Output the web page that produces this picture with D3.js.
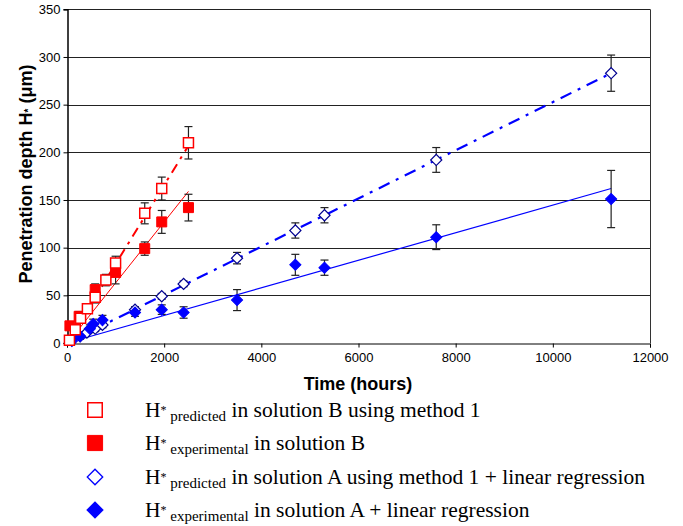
<!DOCTYPE html>
<html><head><meta charset="utf-8">
<script src="https://cdn.jsdelivr.net/npm/d3@7"></script>
<style>body{margin:0;background:#fff}svg{display:block}</style>
</head><body><svg id="c" width="683" height="526"></svg>
<script>
// ---- data ----
const xTicks = [0, 2000, 4000, 6000, 8000, 10000, 12000];
const yTicks = [0, 50, 100, 150, 200, 250, 300, 350];

const predBTime = [50, 170, 280, 420, 580, 800, 1000, 1600, 1950, 2500];
const predBVal  = [3, 14, 26, 36, 48, 66, 84, 136, 162, 210];
const predBErr  = [3, 4, 5, 5, 6, 6, 7, 11, 12, 17];

const expBTime = [60, 250, 580, 1000, 1600, 1950, 2500];
const expBVal  = [18, 28, 56, 74, 99, 127, 142];
const expBErr  = [4, 5, 6, 12, 7, 12, 14];

const predATime = [270, 410, 580, 730, 1400, 1950, 2400, 3500, 4700, 5300, 7600, 11200];
const predAVal  = [7, 11, 15, 19, 35, 49, 62, 89, 118, 134, 192, 283];
const predAErr  = [2, 2, 3, 3, 3, 3, 3, 6, 8, 8, 13, 19];

const expATime = [100, 270, 470, 540, 730, 1400, 1950, 2400, 3500, 4700, 5300, 7600, 11200];
const expAVal  = [2, 7, 15, 20, 24, 32, 35, 32, 45, 82, 79, 111, 151];
const expAErr  = [2, 3, 4, 5, 5, 4, 5, 6, 11, 11, 8, 13, 30];

// trend lines (start/end)
const trendPredBTime = [0, 2500], trendPredBVal = [0, 207];
const trendExpBTime  = [0, 2500], trendExpBVal  = [-1, 159];
const trendPredATime = [0, 11200], trendPredAVal = [0, 283];
const trendExpATime  = [0, 11200], trendExpAVal  = [0, 162];

const legendLabels = [
  {sub: "predicted", rest: " in solution B using method 1"},
  {sub: "experimental", rest: " in solution B"},
  {sub: "predicted", rest: " in solution A using method 1 + linear regression"},
  {sub: "experimental", rest: " in solution A + linear regression"}
];

// ---- drawing ----
const svg = d3.select("#c");
const x = d3.scaleLinear().domain([0, 12000]).range([67, 650]);
const y = d3.scaleLinear().domain([0, 350]).range([343, 9.3]);
const RED = "#ff0000", BLUE = "#0000ff", NAVY = "#000090";

// gridlines
svg.append("g").selectAll("line").data(yTicks.filter(d => d > 0)).join("line")
  .attr("x1", x(0)).attr("x2", x(12000))
  .attr("y1", d => Math.round(y(d)) + 0.5).attr("y2", d => Math.round(y(d)) + 0.5)
  .attr("stroke", "#222").attr("stroke-width", 1);
// right border
svg.append("line").attr("x1", Math.round(x(12000)) + 0.5).attr("x2", Math.round(x(12000)) + 0.5)
  .attr("y1", y(350)).attr("y2", y(0)).attr("stroke", "#333");

// axes
const xAxis = d3.axisBottom(x).tickValues(xTicks).tickSize(4).tickPadding(5).tickFormat(d3.format("d"));
const gx = svg.append("g").attr("transform", `translate(0,${Math.round(y(0)) + 0.5})`).call(xAxis);
gx.select(".domain").attr("stroke", "#000");
gx.selectAll(".tick line").attr("stroke", "#000");
gx.selectAll("text").attr("font-family", "Liberation Sans, Arial, sans-serif").attr("font-size", 13).attr("fill", "#000");

const yAxis = d3.axisLeft(y).tickValues(yTicks).tickSize(4).tickPadding(3);
const gy = svg.append("g").attr("transform", `translate(${Math.round(x(0)) + 0.5},0)`).call(yAxis);
gy.select(".domain").attr("stroke", "#000").attr("stroke-width", 1.5);
gy.selectAll(".tick line").attr("stroke", "#000");
gy.selectAll("text").attr("font-family", "Liberation Sans, Arial, sans-serif").attr("font-size", 13).attr("fill", "#000");

// trend lines
const line = d3.line().x(d => x(d[0])).y(d => y(d[1]));
function trend(ts, vs, color, w, dash) {
  svg.append("path").datum(d3.zip(ts, vs)).attr("d", line)
    .attr("fill", "none").attr("stroke", color).attr("stroke-width", w)
    .attr("stroke-dasharray", dash);
}
trend(trendExpBTime, trendExpBVal, RED, 1, null);
trend(trendPredBTime, trendPredBVal, RED, 2, "10,6,3,6");
trend(trendExpATime, trendExpAVal, BLUE, 1.2, null);
trend(trendPredATime, trendPredAVal, BLUE, 2.2, "12,7,3,7");

// error bars
function errBars(ts, vs, es) {
  const d = d3.zip(ts, vs, es);
  const g = svg.append("g").attr("stroke", "#222").attr("stroke-width", 1.2);
  g.selectAll(".v").data(d).join("line").attr("class", "v")
    .attr("x1", p => x(p[0])).attr("x2", p => x(p[0]))
    .attr("y1", p => y(p[1] - p[2])).attr("y2", p => y(p[1] + p[2]));
  g.selectAll(".t").data(d).join("line").attr("class", "t")
    .attr("x1", p => x(p[0]) - 4).attr("x2", p => x(p[0]) + 4)
    .attr("y1", p => y(p[1] + p[2])).attr("y2", p => y(p[1] + p[2]));
  g.selectAll(".b").data(d).join("line").attr("class", "b")
    .attr("x1", p => x(p[0]) - 4).attr("x2", p => x(p[0]) + 4)
    .attr("y1", p => y(p[1] - p[2])).attr("y2", p => y(p[1] - p[2]));
}
errBars(predATime, predAVal, predAErr);
errBars(expATime, expAVal, expAErr);
errBars(expBTime, expBVal, expBErr);
errBars(predBTime, predBVal, predBErr);

// markers
const sq = d3.symbol().type(d3.symbolSquare).size(100);
const dm = d3.symbol().type(d3.symbolSquare).size(62);
function markers(ts, vs, gen, rot, fill, stroke, sw) {
  svg.append("g").selectAll("path").data(d3.zip(ts, vs)).join("path")
    .attr("d", gen).attr("transform", p => `translate(${x(p[0])},${y(p[1])}) rotate(${rot})`)
    .attr("fill", fill).attr("stroke", stroke).attr("stroke-width", sw);
}
markers(predATime, predAVal, dm, 45, "#fff", NAVY, 1.2);
markers(expATime, expAVal, dm, 45, BLUE, BLUE, 1);
markers(expBTime, expBVal, sq, 0, RED, RED, 1);
markers(predBTime, predBVal, sq, 0, "#fff", RED, 1.5);

// axis titles
svg.append("text").attr("x", 358).attr("y", 390).attr("text-anchor", "middle")
  .attr("font-family", "Liberation Sans, Arial, sans-serif").attr("font-weight", "bold").attr("font-size", 18)
  .text("Time (hours)");
const yt = svg.append("text").attr("transform", "translate(32,174) rotate(-90)").attr("text-anchor", "middle")
  .attr("font-family", "Liberation Sans, Arial, sans-serif").attr("font-weight", "bold").attr("font-size", 18);
yt.append("tspan").text("Penetration depth H");
yt.append("tspan").attr("font-size", 10).text("*");
yt.append("tspan").text(" (μm)");

// legend
const legY = [410, 443, 477, 510];
const legSym = [
  {gen: d3.symbol().type(d3.symbolSquare).size(210), rot: 0, fill: "#fff", stroke: RED, sw: 1.5},
  {gen: d3.symbol().type(d3.symbolSquare).size(230), rot: 0, fill: RED, stroke: RED, sw: 1},
  {gen: d3.symbol().type(d3.symbolSquare).size(120), rot: 45, fill: "#fff", stroke: BLUE, sw: 1.3},
  {gen: d3.symbol().type(d3.symbolSquare).size(130), rot: 45, fill: BLUE, stroke: BLUE, sw: 1}
];
const lg = svg.append("g");
legendLabels.forEach((l, i) => {
  const s = legSym[i];
  lg.append("path").attr("d", s.gen).attr("transform", `translate(95,${legY[i]}) rotate(${s.rot})`)
    .attr("fill", s.fill).attr("stroke", s.stroke).attr("stroke-width", s.sw);
  const t = lg.append("text").attr("x", 145).attr("y", legY[i] + 7)
    .attr("font-family", "Liberation Serif, Times New Roman, serif").attr("font-size", 21.5).attr("fill", "#000");
  t.append("tspan").text("H");
  t.append("tspan").attr("font-size", 12).attr("dy", -3).text("*");
  t.append("tspan").attr("font-size", 15).attr("dy", 7).text(" " + l.sub);
  t.append("tspan").attr("dy", -4).text(l.rest);
});
</script></body></html>
